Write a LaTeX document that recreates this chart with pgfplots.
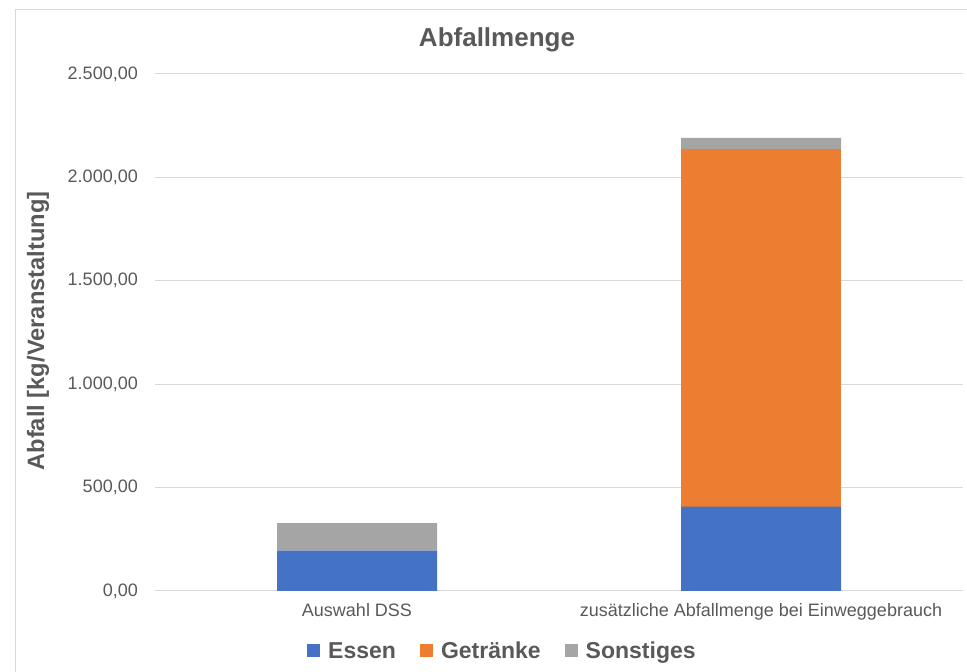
\documentclass[border=0pt]{standalone}
\usepackage{pgfplots}
\pgfplotsset{compat=1.18}
\usepackage{fontspec}
\setmainfont{Liberation Sans}

\definecolor{essen}{HTML}{4472C4}
\definecolor{getraenke}{HTML}{ED7D31}
\definecolor{sonstiges}{HTML}{A5A5A5}
\definecolor{txt}{HTML}{595959}
\definecolor{gridc}{HTML}{D9D9D9}

\begin{document}
\begin{tikzpicture}[x=1pt,y=1pt]
\useasboundingbox (0,0) rectangle (967,672);
% chart frame
\draw[gridc, line width=1pt] (15,0) -- (15,662) -- (967,662);
% title
\node[anchor=base, text=txt, font=\fontsize{26}{30}\selectfont\bfseries] at (497,625.3) {Abfallmenge};
\begin{axis}[
  at={(155pt,81pt)}, anchor=south west,
  scale only axis, width=808pt, height=517pt,
  ybar stacked, bar width=160pt,
  xmin=-0.5, xmax=1.5, ymin=0, ymax=2500,
  xtick={0,1},
  xticklabels={Auswahl DSS, zusätzliche Abfallmenge bei Einweggebrauch},
  ytick={0,500,1000,1500,2000,2500},
  axis line style={draw=none},
  major tick length=0pt,
  ymajorgrids, grid style={gridc, line width=1pt},
  /pgf/number format/assume math mode=true,
  /pgf/number format/fixed,
  /pgf/number format/fixed zerofill,
  /pgf/number format/precision=2,
  /pgf/number format/use comma,
  /pgf/number format/1000 sep={.},
  yticklabel style={text=txt, font=\fontsize{18}{21}\selectfont, anchor=east, inner sep=0pt, xshift=-17pt},
  xticklabel style={text=txt, font=\fontsize{18}{21}\selectfont, anchor=base, inner sep=0pt, yshift=-26pt},
  ylabel={Abfall [kg/Veranstaltung]},
  ylabel style={text=txt, font=\fontsize{23.7}{27}\selectfont\bfseries, at={(axis description cs:-0.1448,0.503)}, anchor=center},
  legend columns=3,
  legend style={draw=none, fill=none, at={(0.43,-0.116)}, anchor=center,
    text=txt, font=\fontsize{23}{27}\selectfont\bfseries,
    /tikz/every odd column/.append style={column sep=6pt},
    /tikz/every even column/.append style={column sep=22pt}},
  legend cell align=left,
]
\addplot[fill=essen, draw=none, legend image code/.code={\fill[essen] (0pt,-6.5pt) rectangle (13pt,6.5pt);}]
  coordinates {(0,195) (1,408)};
\addplot[fill=getraenke, draw=none, legend image code/.code={\fill[getraenke] (0pt,-6.5pt) rectangle (13pt,6.5pt);}]
  coordinates {(0,0) (1,1727)};
\addplot[fill=sonstiges, draw=none, legend image code/.code={\fill[sonstiges] (0pt,-6.5pt) rectangle (13pt,6.5pt);}]
  coordinates {(0,133) (1,56)};
\legend{Essen, Getränke, Sonstiges}
\end{axis}
\end{tikzpicture}
\end{document}
